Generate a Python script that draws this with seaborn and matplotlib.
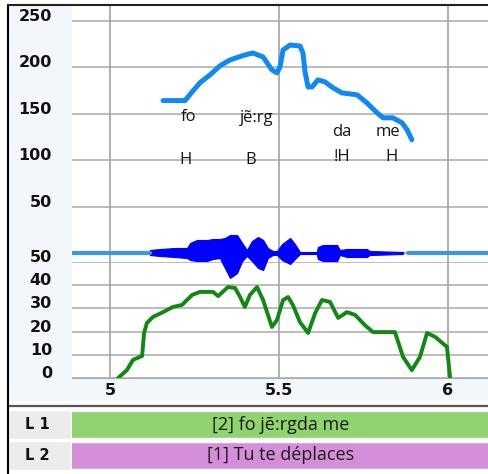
import numpy as np
import pandas as pd
import matplotlib
matplotlib.use("Agg")
import matplotlib.pyplot as plt
from matplotlib.lines import Line2D
from matplotlib.transforms import blended_transform_factory
import seaborn as sns

# pitch contour (time s, Hz)
pitch_t = [5.157, 5.222, 5.243, 5.266, 5.296, 5.325, 5.355, 5.399, 5.423, 5.453,
           5.479, 5.494, 5.503, 5.512, 5.533, 5.562, 5.571, 5.577, 5.586, 5.598,
           5.615, 5.636, 5.660, 5.686, 5.731, 5.760, 5.790, 5.808, 5.837, 5.864,
           5.879, 5.893]
pitch_hz = [163.9, 163.9, 173.3, 183.0, 191.6, 201.2, 207.6, 213.0, 215.1, 210.8,
            196.9, 193.7, 200.1, 218.3, 223.7, 222.6, 215.1, 194.7, 178.6, 178.6,
            186.2, 184.0, 177.6, 172.2, 170.1, 161.5, 150.8, 145.4, 145.4, 140.0,
            132.5, 121.8]

# intensity (time s, dB)
int_t = [5.024, 5.050, 5.068, 5.095, 5.101, 5.109, 5.127, 5.157, 5.186, 5.213,
         5.243, 5.266, 5.305, 5.320, 5.349, 5.370, 5.385, 5.399, 5.414, 5.435,
         5.453, 5.479, 5.494, 5.512, 5.527, 5.541, 5.562, 5.586, 5.607, 5.627,
         5.651, 5.675, 5.701, 5.725, 5.754, 5.778, 5.843, 5.867, 5.893, 5.917,
         5.938, 5.962, 5.997, 6.006]
int_db = [0.0, 3.4, 7.8, 9.5, 19.4, 23.7, 26.3, 28.4, 30.6, 31.5,
          35.8, 37.1, 37.1, 35.3, 39.2, 38.8, 34.9, 30.6, 35.8, 39.2,
          33.6, 22.0, 25.0, 33.6, 34.9, 31.5, 24.1, 19.4, 28.0, 33.6,
          32.8, 25.9, 28.4, 27.2, 22.8, 19.8, 19.8, 9.1, 3.4, 9.1,
          19.4, 17.7, 13.4, 0.4]

# waveform envelope (arbitrary amplitude)
wave_t = [5.118, 5.148, 5.192, 5.228, 5.237, 5.257, 5.287, 5.305, 5.325, 5.340,
          5.355, 5.376, 5.391, 5.405, 5.420, 5.438, 5.453, 5.467, 5.482, 5.494,
          5.509, 5.533, 5.547, 5.562, 5.612, 5.615, 5.630, 5.672, 5.680, 5.701,
          5.760, 5.769, 5.867]
wave_hi = [3, 4, 5, 5, 10, 13, 13, 14, 14, 15,
           18, 18, 10, 3, 12, 16, 13, 5, 2, 2,
           9, 15, 9, 1, 1, 6, 8, 8, 3, 4,
           4, 2, 1]
wave_lo = [-2, -3, -4, -5, -7, -8, -8, -6, -5, -15,
           -25, -20, -8, -3, -8, -15, -17, -5, -2, -2,
           -7, -11, -6, -1, -1, -6, -8, -8, -2, -4,
           -4, -2, -1]
silence = [(4.80, 5.118), (5.882, 6.20)]

syllables = ["fo", "jẽ:rg", "da", "me"]
syll_t = [5.231, 5.435, 5.686, 5.822]
syll_hz = [146.5, 145.4, 130.4, 130.4]
tones = ["H", "B", "!H", "H"]
tone_t = [5.222, 5.417, 5.686, 5.834]
tone_hz = [100.3, 100.3, 103.5, 103.5]

tier_names = ["L 1", "L 2"]
tier_text = ["[2] fo jẽ:rgda me", "[1] Tu te déplaces"]
tier_colors = ["#90d46f", "#d58fd9"]
tier_start = 4.80
tier_end = 6.20

x_ticks = [5, 5.5, 6]
x_labels = ["5", "5.5", "6"]
pitch_ticks = [50, 100, 150, 200, 250]
int_ticks = [0, 10, 20, 30, 40, 50]
view = (4.8876, 6.1213)

sns.set_style("white")
plt.rcParams["font.family"] = ["DejaVu Sans"]

W, H = 489, 474
fig = plt.figure(figsize=(W / 100, H / 100), dpi=100)


def box(x0, y0, x1, y1):
    return [x0 / W, 1 - y1 / H, (x1 - x0) / W, (y1 - y0) / H]


def bare(ax, face="none"):
    ax.set_facecolor(face)
    for s in ax.spines.values():
        s.set_visible(False)
    ax.tick_params(length=0)
    return ax


grid_c = "#a9a9a9"
lab_font = dict(fontsize=11.5, fontweight="bold", color="#111111")
note_font = dict(fontsize=12, family="Open Sans", color="#151515")

# light margin panel
panel = bare(fig.add_axes(box(8, 5, 489, 401)), "#f3f6fb")
panel.set_xticks([])
panel.set_yticks([])

# white plot background with vertical grid
ax_bg = bare(fig.add_axes(box(72, 5, 489, 378)), "white")
ax_bg.set_xlim(view)
ax_bg.set_ylim(0, 1)
ax_bg.set_yticks([])
ax_bg.set_xticks(x_ticks)
ax_bg.set_xticklabels(x_labels, **lab_font)
ax_bg.tick_params(axis="x", pad=3.5)
ax_bg.grid(axis="x", color=grid_c, lw=1.3)
ax_bg.spines["bottom"].set_visible(True)
ax_bg.spines["bottom"].set_color(grid_c)

# pitch
ax_p = bare(fig.add_axes(box(72, 5, 489, 232)))
sns.lineplot(x=pitch_t, y=pitch_hz, ax=ax_p, color="#1188f5", linewidth=3.6, estimator=None)
ax_p.set_xlim(view)
ax_p.set_ylim(22.6, 266.7)
ax_p.set_xticks([])
ax_p.set_yticks(pitch_ticks)
ax_p.set_yticklabels([str(v) for v in pitch_ticks], **lab_font)
ax_p.tick_params(axis="y", pad=14.4)
ax_p.grid(axis="y", color=grid_c, lw=1.1)
ax_p.set_axisbelow(True)
for txt, t, f in zip(syllables, syll_t, syll_hz):
    ax_p.text(t, f, txt, ha="center", va="center", **note_font)
for txt, t, f in zip(tones, tone_t, tone_hz):
    ax_p.text(t, f, txt, ha="center", va="center", **note_font)

# intensity
ax_i = bare(fig.add_axes(box(72, 262, 489, 378)))
sns.lineplot(x=int_t, y=int_db, ax=ax_i, color="#118811", linewidth=2.8, estimator=None)
ax_i.set_xlim(view)
ax_i.set_ylim(0, 50)
ax_i.set_xticks([])
ax_i.set_yticks(int_ticks)
ax_i.set_yticklabels([str(v) for v in int_ticks], **lab_font)
ax_i.tick_params(axis="y", pad=14.4)
ax_i.grid(axis="y", color=grid_c, lw=1.1)
ax_i.set_axisbelow(True)

for ax in (ax_p, ax_i):
    for lab in ax.get_yticklabels():
        lab.set_va("baseline")

# waveform
ax_w = bare(fig.add_axes(box(72, 232, 489, 280)))
ax_w.set_xlim(view)
ax_w.set_ylim(-27, 21)
ax_w.set_xticks([])
ax_w.set_yticks([0])
ax_w.set_yticklabels([])
ax_w.grid(axis="y", color=grid_c, lw=1.1)
ax_w.set_axisbelow(True)
for s0, s1 in silence:
    sns.lineplot(x=[s0, s1], y=[0, 0], ax=ax_w, color="#3b97e3", linewidth=3.0)
ax_w.fill_between(wave_t, wave_lo, wave_hi, color="#0000ff", lw=0.8)

# separators
fig.add_artist(Line2D([8 / W, 1], [1 - 406 / H] * 2, transform=fig.transFigure, color="#555555", lw=1.6))

# tiers
ax_t = bare(fig.add_axes(box(72, 409, 489, 471)))
ax_t.set_xlim(view)
ax_t.set_ylim(2, 0)
ax_t.set_xticks([])
ax_t.set_yticks([])
rows = np.arange(len(tier_names)) + 0.5
ax_t.barh(rows, tier_end - tier_start, left=tier_start, height=0.84, color=tier_colors)
tr = blended_transform_factory(ax_t.transAxes, ax_t.transData)
for r, txt in zip(rows, tier_text):
    ax_t.text(0.5, r, txt, transform=tr, ha="center", va="center", fontsize=13,
              family="Open Sans", color="#1a1a1a")

ax_l = bare(fig.add_axes(box(8, 409, 71, 471)))
ax_l.set_xlim(0, 1)
ax_l.set_ylim(2, 0)
ax_l.set_xticks([])
ax_l.set_yticks([])
ax_l.barh(rows, 1, height=0.94, color="#ececec")
for r, txt in zip(rows, tier_names):
    ax_l.text(0.46, r, txt, ha="center", va="center", fontsize=10.5, fontweight="bold", color="#111111")

# outer frame
fig.add_artist(Line2D([8 / W, 8 / W], [0, 1 - 5 / H], transform=fig.transFigure, color="black", lw=1.5))
fig.add_artist(Line2D([8 / W, 1], [1 - 5 / H] * 2, transform=fig.transFigure, color="#222222", lw=1.5))

fig.savefig("out.png", dpi=100)
